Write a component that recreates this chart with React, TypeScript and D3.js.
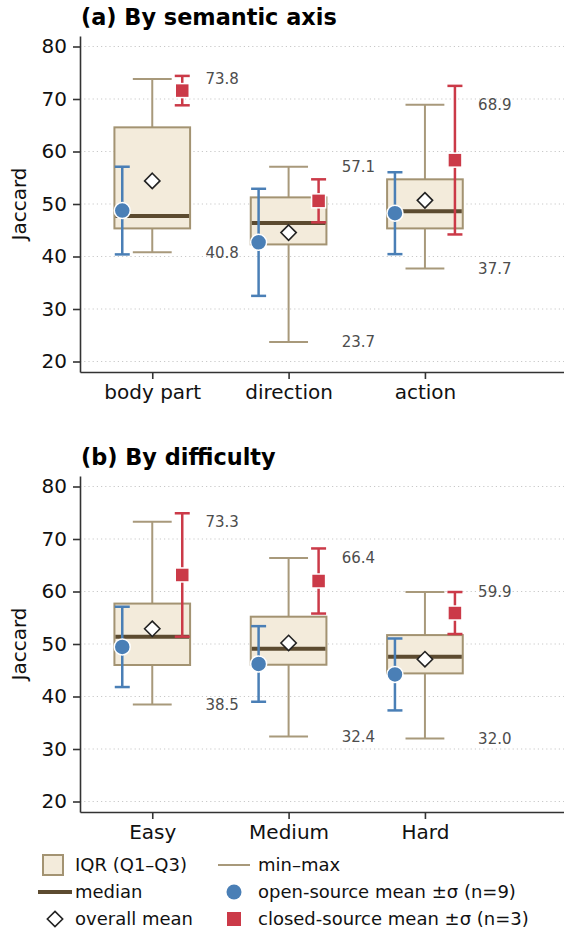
import React, { useEffect, useRef } from 'react';
import * as d3 from 'd3';

// panel (a) by semantic axis
const categoriesA = ['body part', 'direction', 'action'];
const minA = [40.8, 23.7, 37.7];
const q1A = [45.35, 42.3, 45.35];
const medianA = [47.7, 46.4, 48.6];
const q3A = [64.6, 51.26, 54.7];
const maxA = [73.8, 57.1, 68.9];
const meanA = [54.4, 44.55, 50.7];
const openMeanA = [48.75, 42.7, 48.25];
const openSdA = [8.35, 10.2, 7.8];
const closedMeanA = [71.6, 50.6, 58.35];
const closedSdA = [2.8, 4.1, 14.15];

// panel (b) by difficulty
const categoriesB = ['Easy', 'Medium', 'Hard'];
const minB = [38.5, 32.4, 32.0];
const q1B = [46.0, 46.05, 44.4];
const medianB = [51.4, 49.1, 47.55];
const q3B = [57.7, 55.2, 51.7];
const maxB = [73.3, 66.4, 59.9];
const meanB = [52.9, 50.2, 47.1];
const openMeanB = [49.45, 46.2, 44.2];
const openSdB = [7.65, 7.2, 6.85];
const closedMeanB = [63.15, 62.0, 55.9];
const closedSdB = [11.75, 6.2, 4.0];

const yTicks = [20, 30, 40, 50, 60, 70, 80];

const FONT = '"DejaVu Sans", sans-serif';
const BOX_FILL = '#f3ebdb';
const BOX_EDGE = '#a39372';
const WHISKER = '#a8997b';
const MEDIAN = '#5c4b30';
const BLUE = '#4a7fb6';
const RED = '#cb3a48';
const SPINE = '#333333';

const W = 564;
const H = 931;

interface Panel {
  title: string;
  cats: string[];
  min: number[];
  q1: number[];
  med: number[];
  q3: number[];
  max: number[];
  mean: number[];
  openMean: number[];
  openSd: number[];
  closedMean: number[];
  closedSd: number[];
}

function drawPanel(svg: any, p: Panel, top: number) {
  const left = 80;
  const plotTop = top + 36;
  const plotBottom = top + 372;

  const x = d3.scaleLinear().domain([-0.53, 3.02]).range([left, W]);
  const y = d3.scaleLinear().domain([18, 82]).range([plotBottom, plotTop]);

  const g = svg.append('g');

  // grid
  g.selectAll('.grid')
    .data(yTicks)
    .enter().append('line')
    .attr('x1', left).attr('x2', W)
    .attr('y1', (d: number) => y(d)).attr('y2', (d: number) => y(d))
    .attr('stroke', '#c9c9c9')
    .attr('stroke-width', 1.2)
    .attr('stroke-dasharray', '1.2,3');

  const idx = p.cats.map((_, i) => i);
  const boxW = 0.555;
  const capW = 0.285;
  const errCap = 0.11;
  const off = 0.22;

  // whiskers
  g.selectAll('.wline')
    .data(idx)
    .enter().append('line')
    .attr('x1', (i: number) => x(i)).attr('x2', (i: number) => x(i))
    .attr('y1', (i: number) => y(p.min[i])).attr('y2', (i: number) => y(p.max[i]))
    .attr('stroke', WHISKER).attr('stroke-width', 2);

  ['min', 'max'].forEach(k => {
    g.selectAll('.cap' + k)
      .data(idx)
      .enter().append('line')
      .attr('x1', (i: number) => x(i - capW / 2)).attr('x2', (i: number) => x(i + capW / 2))
      .attr('y1', (i: number) => y((p as any)[k][i])).attr('y2', (i: number) => y((p as any)[k][i]))
      .attr('stroke', WHISKER).attr('stroke-width', 2);
  });

  // boxes
  g.selectAll('.box')
    .data(idx)
    .enter().append('rect')
    .attr('x', (i: number) => x(i - boxW / 2))
    .attr('width', x(boxW) - x(0))
    .attr('y', (i: number) => y(p.q3[i]))
    .attr('height', (i: number) => y(p.q1[i]) - y(p.q3[i]))
    .attr('fill', BOX_FILL)
    .attr('stroke', BOX_EDGE)
    .attr('stroke-width', 2);

  g.selectAll('.med')
    .data(idx)
    .enter().append('line')
    .attr('x1', (i: number) => x(i - boxW / 2) + 1).attr('x2', (i: number) => x(i + boxW / 2) - 1)
    .attr('y1', (i: number) => y(p.med[i])).attr('y2', (i: number) => y(p.med[i]))
    .attr('stroke', MEDIAN).attr('stroke-width', 4);

  // error bars
  const errBars = (mean: number[], sd: number[], dx: number, color: string) => {
    g.selectAll(null)
      .data(idx)
      .enter().append('line')
      .attr('x1', (i: number) => x(i + dx)).attr('x2', (i: number) => x(i + dx))
      .attr('y1', (i: number) => y(mean[i] - sd[i])).attr('y2', (i: number) => y(mean[i] + sd[i]))
      .attr('stroke', color).attr('stroke-width', 2.5);
    [-1, 1].forEach(s => {
      g.selectAll(null)
        .data(idx)
        .enter().append('line')
        .attr('x1', (i: number) => x(i + dx - errCap / 2)).attr('x2', (i: number) => x(i + dx + errCap / 2))
        .attr('y1', (i: number) => y(mean[i] + s * sd[i])).attr('y2', (i: number) => y(mean[i] + s * sd[i]))
        .attr('stroke', color).attr('stroke-width', 2.5);
    });
  };
  errBars(p.openMean, p.openSd, -off, BLUE);
  errBars(p.closedMean, p.closedSd, off, RED);

  g.selectAll('.open')
    .data(idx)
    .enter().append('circle')
    .attr('cx', (i: number) => x(i - off))
    .attr('cy', (i: number) => y(p.openMean[i]))
    .attr('r', 8)
    .attr('fill', BLUE)
    .attr('stroke', 'white').attr('stroke-width', 1.5);

  g.selectAll('.closed')
    .data(idx)
    .enter().append('rect')
    .attr('x', (i: number) => x(i + off) - 7)
    .attr('y', (i: number) => y(p.closedMean[i]) - 7)
    .attr('width', 14).attr('height', 14)
    .attr('fill', RED)
    .attr('stroke', 'white').attr('stroke-width', 1.5);

  const diamond = d3.symbol().type(d3.symbolDiamond2).size(150);
  g.selectAll('.mean')
    .data(idx)
    .enter().append('path')
    .attr('d', diamond)
    .attr('transform', (i: number) => `translate(${x(i)},${y(p.mean[i])})`)
    .attr('fill', 'white')
    .attr('stroke', '#222').attr('stroke-width', 1.6);

  // min/max annotations
  const fmt = d3.format('.1f');
  ['min', 'max'].forEach(k => {
    g.selectAll(null)
      .data(idx)
      .enter().append('text')
      .attr('x', (i: number) => x(i + 0.39))
      .attr('y', (i: number) => y((p as any)[k][i]))
      .attr('dy', '0.35em')
      .attr('font-family', FONT)
      .attr('font-size', 15)
      .attr('fill', '#4d4d4d')
      .text((i: number) => fmt((p as any)[k][i]));
  });

  // axes
  const yAxis = d3.axisLeft(y).tickValues(yTicks).tickSize(7).tickPadding(6).tickSizeOuter(0);
  const ya = g.append('g').attr('transform', `translate(${left},0)`).call(yAxis);
  const xAxis = d3.axisBottom(x).tickValues([0, 1, 2]).tickSize(7).tickPadding(6).tickSizeOuter(0)
    .tickFormat((d: any) => p.cats[d]);
  const xa = g.append('g').attr('transform', `translate(0,${plotBottom})`).call(xAxis);
  [ya, xa].forEach(a => {
    a.select('.domain').attr('stroke', SPINE).attr('stroke-width', 1.6);
    a.selectAll('.tick line').attr('stroke', SPINE).attr('stroke-width', 1.6);
    a.selectAll('.tick text').attr('font-family', FONT).attr('font-size', 20).attr('fill', '#111');
  });

  g.append('text')
    .attr('transform', `translate(${26},${(plotTop + plotBottom) / 2}) rotate(-90)`)
    .attr('text-anchor', 'middle')
    .attr('font-family', FONT)
    .attr('font-size', 20)
    .attr('fill', '#111')
    .text('Jaccard');

  g.append('text')
    .attr('x', left + 1)
    .attr('y', top + 25)
    .attr('font-family', FONT)
    .attr('font-size', 22.4)
    .attr('font-weight', 'bold')
    .attr('fill', '#000')
    .text(p.title);
}

function drawLegend(svg: any) {
  const rows = [865, 892, 919];
  const g = svg.append('g').attr('font-family', FONT).attr('font-size', 18).attr('fill', '#111');
  const t1 = 75;
  const t2 = 258;

  g.append('rect').attr('x', 43).attr('y', rows[0] - 10).attr('width', 20).attr('height', 20)
    .attr('fill', BOX_FILL).attr('stroke', BOX_EDGE).attr('stroke-width', 2);
  g.append('text').attr('x', t1).attr('y', rows[0]).attr('dy', '0.35em').text('IQR (Q1–Q3)');

  g.append('line').attr('x1', 38).attr('x2', 72).attr('y1', rows[1]).attr('y2', rows[1])
    .attr('stroke', MEDIAN).attr('stroke-width', 4);
  g.append('text').attr('x', t1).attr('y', rows[1]).attr('dy', '0.35em').text('median');

  g.append('path').attr('d', d3.symbol().type(d3.symbolDiamond2).size(150))
    .attr('transform', `translate(55,${rows[2]})`)
    .attr('fill', 'white').attr('stroke', '#222').attr('stroke-width', 1.6);
  g.append('text').attr('x', t1).attr('y', rows[2]).attr('dy', '0.35em').text('overall mean');

  g.append('line').attr('x1', 218).attr('x2', 250).attr('y1', rows[0]).attr('y2', rows[0])
    .attr('stroke', WHISKER).attr('stroke-width', 2);
  g.append('text').attr('x', t2).attr('y', rows[0]).attr('dy', '0.35em').text('min–max');

  g.append('circle').attr('cx', 234).attr('cy', rows[1]).attr('r', 7.5).attr('fill', BLUE);
  g.append('text').attr('x', t2).attr('y', rows[1]).attr('dy', '0.35em').text('open-source mean ±σ (n=9)');

  g.append('rect').attr('x', 227).attr('y', rows[2] - 7).attr('width', 14).attr('height', 14).attr('fill', RED);
  g.append('text').attr('x', t2).attr('y', rows[2]).attr('dy', '0.35em').text('closed-source mean ±σ (n=3)');
}

export default function App() {
  const ref = useRef<SVGSVGElement>(null);

  useEffect(() => {
    const svg = d3.select(ref.current);
    svg.selectAll('*').remove();
    svg.append('rect').attr('width', W).attr('height', H).attr('fill', 'white');

    drawPanel(svg, {
      title: '(a) By semantic axis', cats: categoriesA,
      min: minA, q1: q1A, med: medianA, q3: q3A, max: maxA, mean: meanA,
      openMean: openMeanA, openSd: openSdA, closedMean: closedMeanA, closedSd: closedSdA,
    }, 0);
    drawPanel(svg, {
      title: '(b) By difficulty', cats: categoriesB,
      min: minB, q1: q1B, med: medianB, q3: q3B, max: maxB, mean: meanB,
      openMean: openMeanB, openSd: openSdB, closedMean: closedMeanB, closedSd: closedSdB,
    }, 440);
    drawLegend(svg);
  }, []);

  return (
    <svg ref={ref} width={W} height={H}
      style={{ position: 'absolute', left: 0, top: 0, display: 'block' }} />
  );
}
